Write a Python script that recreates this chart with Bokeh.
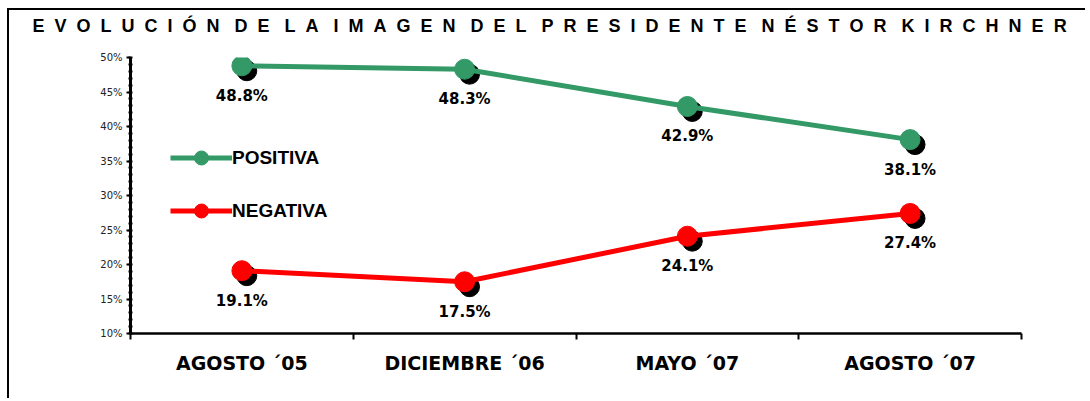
from bokeh.plotting import figure
from bokeh.models import (Range1d, FixedTicker, PrintfTickFormatter, ColumnDataSource,
                          Legend, LegendItem, Title)
from bokeh.core.properties import value
from bokeh.transform import dodge
from bokeh.embed import file_html
from bokeh.resources import INLINE

categories = ["AGOSTO \u00b405", "DICIEMBRE \u00b406", "MAYO \u00b407", "AGOSTO \u00b407"]
positiva = [48.8, 48.3, 42.9, 38.1]
negativa = [19.1, 17.5, 24.1, 27.4]
y_ticks = [10, 15, 20, 25, 30, 35, 40, 45, 50]
series_names = ["POSITIVA", "NEGATIVA"]
title_text = "EVOLUCIÓN DE LA IMAGEN DEL PRESIDENTE NÉSTOR KIRCHNER"

GREEN = "#339966"
RED = "#FF0000"

xs = [i + 0.5 for i in range(len(categories))]

NB = "\u00a0"
def spaced(t, sep=NB * 2, wsep=NB * 3):
    return wsep.join(sep.join(list(w)) for w in t.split(" "))

p = figure(width=1078, height=390,
           x_range=Range1d(0, len(categories)), y_range=Range1d(y_ticks[0], y_ticks[-1]),
           output_backend="svg", toolbar_location=None,
           min_border_left=121, min_border_right=66, min_border_top=47, min_border_bottom=67)
p.styles = {"border-top": "2px solid black", "border-left": "2px solid black",
            "margin-top": "8px", "margin-left": "7px"}
p.outline_line_color = None
p.xgrid.visible = False
p.ygrid.visible = False

# second (blank) line lifts the title above the plot area
p.title = Title(text=spaced(title_text) + "\n" + NB, align="left", offset=-98,
                vertical_align="bottom", standoff=4, text_line_height=1.0,
                text_font="Liberation Sans", text_font_size="18px",
                text_font_style="bold", text_color="black")

# y axis
ya = p.yaxis[0]
ya.ticker = FixedTicker(ticks=y_ticks, minor_ticks=list(range(y_ticks[0], y_ticks[-1] + 1)))
ya.formatter = PrintfTickFormatter(format="%d%%")
ya.axis_line_width = 3
ya.axis_line_color = "black"
ya.major_tick_line_width = 2
ya.major_tick_out = 4
ya.major_tick_in = 0
ya.minor_tick_line_width = 2
ya.minor_tick_out = 2
ya.minor_tick_in = 2
ya.major_label_text_font = "DejaVu Sans"
ya.major_label_text_font_size = "10px"
ya.major_label_text_color = "#222222"
ya.major_label_standoff = 4

# x axis
xa = p.xaxis[0]
xa.ticker = FixedTicker(ticks=xs, minor_ticks=list(range(0, len(categories) + 1)))
xa.major_label_overrides = {x: c for x, c in zip(xs, categories)}
xa.axis_line_width = 2.5
xa.axis_line_color = "black"
xa.major_tick_line_color = None
xa.minor_tick_line_width = 2
xa.minor_tick_out = 6
xa.minor_tick_in = 0
xa.major_label_text_font = "DejaVu Sans"
xa.major_label_text_font_size = "19px"
xa.major_label_text_font_style = "bold"
xa.major_label_text_color = "black"
xa.major_label_standoff = 12

items = []
for name, vals, col in zip(series_names, [positiva, negativa], [GREEN, RED]):
    src = ColumnDataSource(dict(x=xs, y=vals, lab=[f"{v:.1f}%" for v in vals]))
    p.scatter(x=dodge("x", 0.022), y=dodge("y", -0.72), source=src, size=20,
              fill_color="black", line_color="black")
    lr = p.line(x="x", y="y", source=src, line_color=col, line_width=5)
    dr = p.scatter(x="x", y="y", source=src, size=20, fill_color=col, line_color=col)
    p.text(x="x", y="y", text="lab", source=src, y_offset=30, text_align="center",
           text_baseline="middle", text_font=value("DejaVu Sans"), text_font_size="15px",
           text_font_style="bold", text_color="black")
    items.append(LegendItem(label=name, renderers=[lr, dr]))

leg = Legend(items=items, location=(40, 105), padding=0, margin=0, spacing=18,
             glyph_width=62, glyph_height=35, label_standoff=-2,
             border_line_color=None, background_fill_alpha=0,
             label_text_font="Liberation Sans", label_text_font_size="19px",
             label_text_font_style="bold", label_text_color="black")
p.add_layout(leg)

open("out.html", "w").write(file_html(p, INLINE))
